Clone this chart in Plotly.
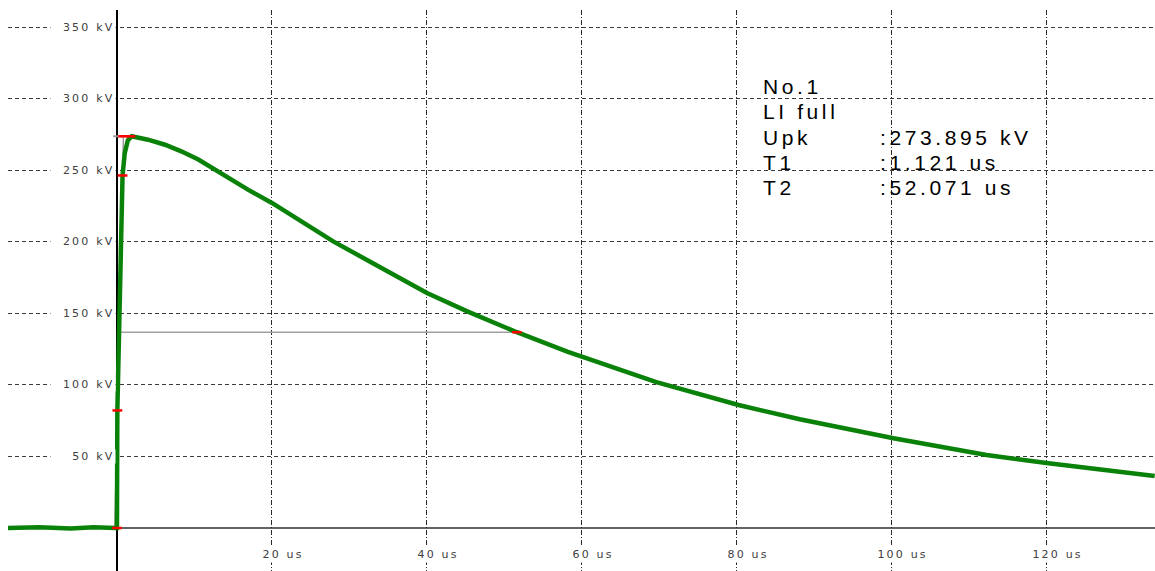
import plotly.graph_objects as go

# ---- data ----
time_us = [-14.1, -10.0, -6.0, -3.0, -0.2, 0.0, 0.05, 0.35, 0.72, 1.0, 1.4, 1.9,
           4.0, 6.2, 8.3, 10.5, 12.6, 14.8, 16.9, 20.0, 23.0, 25.5, 27.9, 32.2,
           36.5, 40.0, 45.2, 51.6, 58.1, 62.4, 69.6, 80.2, 88.1, 100.2, 112.2,
           120.2, 133.9]
voltage_kv = [0.0, 0.6, -0.4, 0.5, 0.0, 0.0, 82.2, 165.0, 246.5, 262.0, 271.0, 273.9,
              271.5, 268.0, 263.4, 257.6, 250.6, 243.6, 236.6, 227.3, 217.0, 208.5, 200.4, 187.6,
              174.5, 164.3, 151.5, 136.9, 123.4, 115.3, 102.0, 86.0, 76.0, 62.7, 51.0,
              45.2, 36.4]

marker_t = [0.0, 0.05, 0.72, 0.79, 1.74, 51.6]
marker_v = [0.0, 82.2, 246.5, 273.9, 273.9, 136.9]

half_line_t = [0.0, 51.6]
half_line_v = [136.9, 136.9]
peak_line_t = [-0.5, 0.8]
peak_line_v = [273.9, 273.9]
front_line_t = [-0.285, 0.836]
front_line_v = [0.0, 273.9]

y_tick_vals = [50, 100, 150, 200, 250, 300, 350]
y_tick_text = ["50 kV", "100 kV", "150 kV", "200 kV", "250 kV", "300 kV", "350 kV"]
x_tick_vals = [20, 40, 60, 80, 100, 120]
x_tick_text = ["20 us", "40 us", "60 us", "80 us", "100 us", "120 us"]

info_labels = ["No.1", "LI full", "Upk", "T1", "T2"]
info_values = ["", "", ":273.895 kV", ":1.121 us", ":52.071 us"]
info_y = [308.7, 291.2, 273.0, 255.5, 238.0]

X_RANGE = [-14.06, 133.94]
Y_RANGE = [-30.07, 362.2]

fig = go.Figure()

fig.add_trace(go.Scatter(x=front_line_t, y=front_line_v, mode="lines",
                         line=dict(color="#9a9a9a", width=1.5), hoverinfo="skip"))
fig.add_trace(go.Scatter(x=half_line_t, y=half_line_v, mode="lines",
                         line=dict(color="#a0a0a0", width=1.5), hoverinfo="skip"))
fig.add_trace(go.Scatter(x=peak_line_t, y=peak_line_v, mode="lines",
                         line=dict(color="#9a9a9a", width=2), hoverinfo="skip"))
fig.add_trace(go.Scatter(x=time_us, y=voltage_kv, mode="lines",
                         line=dict(color="#0a820a", width=4.5)))
fig.add_trace(go.Scatter(x=marker_t, y=marker_v, mode="markers",
                         marker=dict(symbol="line-ew-open", size=7, color="red",
                                     line=dict(color="red", width=2.5))))

# x-axis baseline from the origin to the right
fig.add_shape(type="line", xref="x", yref="y", x0=0, x1=X_RANGE[1], y0=0, y1=0,
              line=dict(color="#303030", width=1.5), layer="below")

small_font = dict(family="DejaVu Sans", size=11, color="#404040")
for v, t in zip(y_tick_vals, y_tick_text):
    fig.add_annotation(x=0, y=v, xref="x", yref="y", text=t, showarrow=False,
                       xanchor="right", yanchor="middle", align="right", width=64,
                       xshift=-1, bgcolor="white", font=small_font, borderpad=0)
for v, t in zip(x_tick_vals, x_tick_text):
    fig.add_annotation(x=v, y=-18.2, xref="x", yref="y", text=t, showarrow=False,
                       xanchor="center", yanchor="middle", xshift=11,
                       bgcolor="white", font=small_font, borderpad=1)

big_font = dict(family="Liberation Sans", size=21, color="black")
for lab, val, yy in zip(info_labels, info_values, info_y):
    fig.add_annotation(x=83.05, y=yy, xref="x", yref="y", text=lab, showarrow=False,
                       xanchor="left", yanchor="middle", align="left", font=big_font)
    if val:
        fig.add_annotation(x=98.2, y=yy, xref="x", yref="y", text=val, showarrow=False,
                           xanchor="left", yanchor="middle", align="left", font=big_font)

fig.update_layout(
    width=1155, height=571,
    margin=dict(l=8, r=0, t=10, b=0),
    paper_bgcolor="white", plot_bgcolor="white",
    showlegend=False,
    xaxis=dict(range=X_RANGE, tickvals=x_tick_vals, showticklabels=False, ticks="",
               showgrid=True, gridcolor="#2a2a2a", gridwidth=1, griddash="5px,2px,1px,2px",
               zeroline=True, zerolinecolor="black", zerolinewidth=1.5, showline=False),
    yaxis=dict(range=Y_RANGE, tickvals=y_tick_vals, showticklabels=False, ticks="",
               showgrid=True, gridcolor="#3a3a3a", gridwidth=1, griddash="4px,3px",
               zeroline=False, showline=False),
)

post_js = """
document.body.style.margin = '0';
document.body.style.padding = '0';
function spaceText(){
  document.querySelectorAll('.annotation-text').forEach(function(t){
    var fs = parseFloat(t.style.fontSize || '12');
    t.style.letterSpacing = (fs >= 18 ? '3.6px' : '2.2px');
  });
}
spaceText();
setTimeout(spaceText, 100);
"""
fig.write_html("out.html", post_script=post_js, config={"displayModeBar": False})
